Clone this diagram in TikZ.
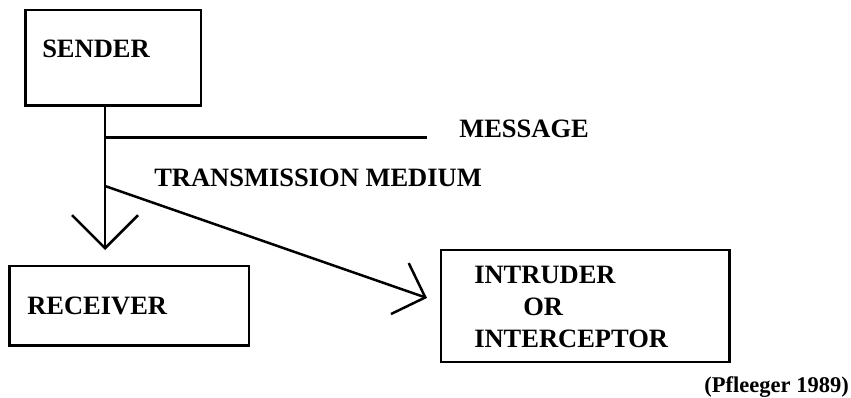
\documentclass[tikz,border=0pt]{standalone}
\usepackage{fontspec}
\setmainfont{Liberation Serif}
\usetikzlibrary{arrows.meta}

\tikzset{
  box/.style={draw, inner sep=0pt, outer sep=0pt},
  lbl/.style={font=\fontsize{26.5}{32}\selectfont\bfseries, inner sep=0pt},
  vbarb/.style={-{Straight Barb[length=33pt,width=66pt]}},
  dbarb/.style={-{Straight Barb[length=27pt,width=54pt]}},
}

\begin{document}
\begin{tikzpicture}[x=1pt, y=-1pt, line width=2.5pt]
	\useasboundingbox (0,0) rectangle (851,398);

	%Boxes
	\node[box, minimum width=175.5pt, minimum height=95.5pt] (sender) at (113.25,57.75) {};
	\node[box, minimum width=239.5pt, minimum height=79.5pt] (receiver) at (129.25,305.75) {};
	\node[box, minimum width=288.5pt, minimum height=112pt] (intruder) at (585.25,306) {};

	%Branch points
	\coordinate (split) at (105,137.7);
	\coordinate (fork) at (105,186);
	\coordinate (recvtip) at (105,250);
	\coordinate (msgend) at (427,137.7);
	\coordinate (inttip) at (427,298);

	%Lines
	\draw[vbarb] (sender.south -| split) -- (recvtip);
	\draw (split) -- (msgend);
	\draw[dbarb] (fork) -- (inttip);

	%Labels
	\node[lbl, anchor=base west] (sendertxt) at (41,58) {SENDER};
	\node[lbl, anchor=base west] (msgtxt) at (458,138) {MESSAGE};
	\node[lbl, anchor=base west] (medtxt) at (153,187) {TRANSMISSION MEDIUM};
	\node[lbl, anchor=base west] (recvtxt) at (26,314) {RECEIVER};
	\node[lbl, anchor=north west, align=left] (inttxt) at (473,265) {INTRUDER\\\hspace{49pt}OR\\INTERCEPTOR};
	\node[lbl, font=\fontsize{22.5}{27}\selectfont\bfseries, anchor=base east] (src) at (850,392) {(Pfleeger 1989)};
\end{tikzpicture}
\end{document}
